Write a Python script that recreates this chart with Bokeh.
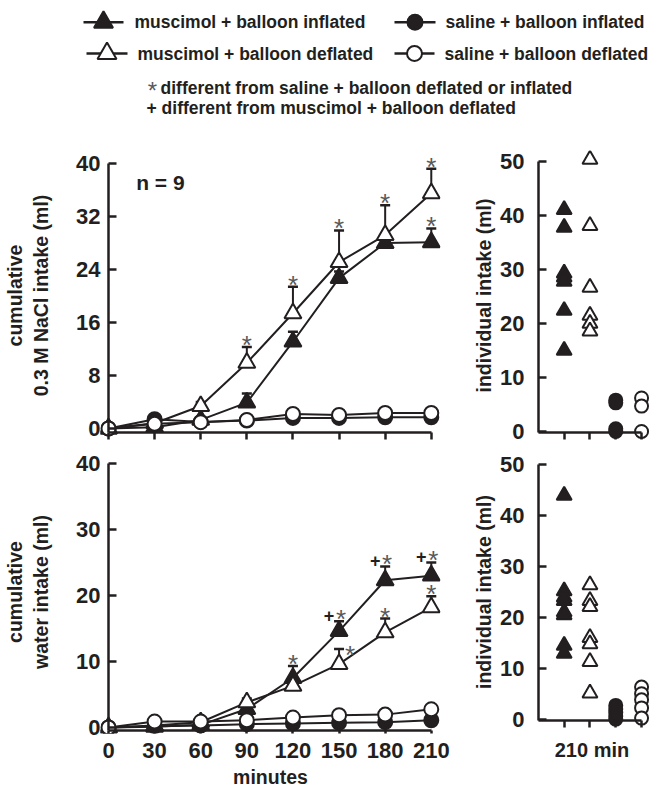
from bokeh.plotting import figure
from bokeh.layouts import column, row
from bokeh.models import Range1d, FixedTicker, ColumnDataSource, Label, LinearAxis
from bokeh.core.properties import value
from bokeh.embed import file_html
from bokeh.resources import INLINE

BLACK = "#231f20"
GRAY = "#58595b"
FONT = "Liberation Sans"

# ---------------- data ----------------
minutes = [0, 30, 60, 90, 120, 150, 180, 210]
series_labels = ["muscimol + balloon inflated", "muscimol + balloon deflated",
                 "saline + balloon inflated", "saline + balloon deflated"]
series_keys = ["mus_inf", "mus_def", "sal_inf", "sal_def"]

# cumulative 0.3 M NaCl intake (ml), mean and SEM
nacl_mus_inf = [0, 0.2, 1.3, 3.9, 13.1, 22.7, 28.0, 28.1]
nacl_mus_inf_sem = [0, 0.2, 0.4, 1.4, 1.5, 1.0, 0.7, 2.1]
nacl_mus_def = [0, 0.8, 3.4, 9.9, 17.4, 25.1, 29.2, 35.5]
nacl_mus_def_sem = [0, 0.3, 0.6, 2.4, 4.0, 4.8, 4.5, 3.7]
nacl_sal_inf = [0, 1.4, 1.0, 1.2, 1.6, 1.6, 1.7, 1.7]
nacl_sal_inf_sem = [0, 0.3, 0.3, 0.3, 0.4, 0.4, 0.4, 0.4]
nacl_sal_def = [0, 0.7, 0.95, 1.3, 2.2, 2.05, 2.35, 2.35]
nacl_sal_def_sem = [0, 0.3, 0.3, 0.4, 0.5, 0.5, 0.5, 0.5]

# cumulative water intake (ml), mean and SEM
water_mus_inf = [0, 0.1, 0.4, 2.8, 7.5, 14.6, 22.3, 23.0]
water_mus_inf_sem = [0, 0.1, 0.2, 0.6, 1.8, 1.5, 2.1, 2.0]
water_mus_def = [0, 0.3, 0.8, 3.8, 6.3, 9.6, 14.4, 18.2]
water_mus_def_sem = [0, 0.2, 0.3, 0.6, 0.8, 2.3, 2.1, 1.7]
water_sal_inf = [0, 0.2, 0.3, 0.5, 0.6, 0.7, 0.8, 1.1]
water_sal_inf_sem = [0, 0.1, 0.1, 0.2, 0.2, 0.3, 0.3, 0.3]
water_sal_def = [0, 0.9, 0.9, 1.1, 1.5, 1.85, 1.95, 2.75]
water_sal_def_sem = [0, 0.2, 0.2, 0.3, 0.3, 0.4, 0.4, 0.4]

# significance marks: (series, time index, symbol)
nacl_marks = [("mus_def", 3, "*"), ("mus_def", 4, "*"), ("mus_def", 5, "*"),
              ("mus_def", 6, "*"), ("mus_def", 7, "*"), ("mus_inf", 7, "*")]
water_marks = [("mus_inf", 4, "*"), ("mus_inf", 5, "+*"), ("mus_inf", 6, "+*"),
               ("mus_inf", 7, "+*"), ("mus_def", 5, "*"), ("mus_def", 6, "*"),
               ("mus_def", 7, "*")]

# individual intake at 210 min (ml)
nacl_ind_mus_inf = [41.1, 37.8, 29.3, 28.6, 27.8, 22.4, 15.0]
nacl_ind_mus_def = [50.4, 38.1, 26.7, 21.5, 20.0, 18.6]
nacl_ind_sal_inf = [5.8, 5.3, 0.5, 0.0]
nacl_ind_sal_def = [6.2, 4.7, 0.0]
water_ind_mus_inf = [44.0, 25.2, 24.0, 23.3, 21.1, 20.5, 14.5, 12.9]
water_ind_mus_def = [26.4, 23.3, 22.1, 16.0, 14.8, 11.3, 5.1]
water_ind_sal_inf = [2.7, 2.0, 1.3, 0.6, 0.0]
water_ind_sal_def = [6.3, 5.0, 3.8, 2.2, 0.2]

nacl_ticks = [0, 8, 16, 24, 32, 40]
water_ticks = [0, 10, 20, 30, 40]
ind_ticks = [0, 10, 20, 30, 40, 50]
ind_positions = [1, 2, 3, 4]

nacl_means = dict(zip(series_keys, [nacl_mus_inf, nacl_mus_def, nacl_sal_inf, nacl_sal_def]))
nacl_sems = dict(zip(series_keys, [nacl_mus_inf_sem, nacl_mus_def_sem, nacl_sal_inf_sem, nacl_sal_def_sem]))
water_means = dict(zip(series_keys, [water_mus_inf, water_mus_def, water_sal_inf, water_sal_def]))
water_sems = dict(zip(series_keys, [water_mus_inf_sem, water_mus_def_sem, water_sal_inf_sem, water_sal_def_sem]))
nacl_ind = dict(zip(series_keys, [nacl_ind_mus_inf, nacl_ind_mus_def, nacl_ind_sal_inf, nacl_ind_sal_def]))
water_ind = dict(zip(series_keys, [water_ind_mus_inf, water_ind_mus_def, water_ind_sal_inf, water_ind_sal_def]))

# ---------------- styles ----------------
MARKER = {"mus_inf": "triangle", "mus_def": "triangle", "sal_inf": "circle", "sal_def": "circle"}
FILL = {"mus_inf": BLACK, "mus_def": "white", "sal_inf": BLACK, "sal_def": "white"}
SIZE_T = {"triangle": 17, "circle": 14}
SIZE_I = {"triangle": 15, "circle": 13}
# pixel shifts for particular marks (layout only)
MARK_SHIFT = {("water", "mus_def", 5): (11, 8)}


def hide_labels(ax):
    ax.major_label_text_color = None
    ax.major_label_text_font_size = "1px"
    ax.major_label_standoff = 0


def new_fig(width, height, xr, yr, mb, xfix, yfix, xbounds, ybounds, xticks, yticks):
    """Figure whose own axes sit at data positions (line + ticks only)."""
    p = figure(width=width, height=height, x_range=xr, y_range=yr,
               output_backend="svg", toolbar_location=None,
               min_border_left=mb[0], min_border_right=mb[1],
               min_border_top=mb[2], min_border_bottom=mb[3])
    p.grid.visible = False
    p.outline_line_color = None
    xa, ya = p.xaxis[0], p.yaxis[0]
    for ax in (xa, ya):
        ax.axis_line_color = BLACK
        ax.axis_line_width = 2.5
        ax.major_tick_line_color = BLACK
        ax.major_tick_line_width = 2.5
        ax.minor_tick_line_color = None
        hide_labels(ax)
    xa.fixed_location = xfix
    ya.fixed_location = yfix
    xa.ticker = FixedTicker(ticks=xticks)
    ya.ticker = FixedTicker(ticks=yticks)
    xa.bounds = xbounds
    ya.bounds = ybounds
    xa.major_tick_in, xa.major_tick_out = 0, 7
    ya.major_tick_in, ya.major_tick_out = 8, 0
    return p


def label_axis(ticks, label, show_ticklabels, standoff, label_standoff, label_size):
    ax = LinearAxis(ticker=FixedTicker(ticks=ticks), axis_label=label)
    ax.axis_line_color = None
    ax.major_tick_line_color = None
    ax.minor_tick_line_color = None
    ax.major_tick_in = 0
    ax.major_tick_out = 0
    if show_ticklabels:
        ax.major_label_text_font = FONT
        ax.major_label_text_font_style = "bold"
        ax.major_label_text_font_size = "22px"
        ax.major_label_text_color = BLACK
        ax.major_label_standoff = standoff
    else:
        hide_labels(ax)
    ax.axis_label_text_font = FONT
    ax.axis_label_text_font_style = "bold"
    ax.axis_label_text_font_size = label_size
    ax.axis_label_text_color = BLACK
    ax.axis_label_text_align = "center"
    ax.axis_label_standoff = label_standoff
    return ax


def draw_time(p, means, sems):
    # error bars (upper only), drawn first so markers cover the stems
    for key in series_keys:
        m, s = means[key], sems[key]
        keep = [i for i in range(len(minutes)) if s[i] > 0.15]
        src = ColumnDataSource(dict(x=[minutes[i] for i in keep],
                                    lo=[m[i] for i in keep],
                                    hi=[m[i] + s[i] for i in keep]))
        p.segment(x0="x", y0="lo", x1="x", y1="hi", source=src,
                  line_color=BLACK, line_width=2)
        p.scatter("x", "hi", source=src, marker="dash", size=10,
                  line_color=BLACK, line_width=2.5)
    for key in series_keys:
        src = ColumnDataSource(dict(x=minutes, y=means[key]))
        p.line("x", "y", source=src, line_color=BLACK, line_width=2)
        p.scatter("x", "y", source=src, marker=MARKER[key], size=SIZE_T[MARKER[key]],
                  fill_color=FILL[key], line_color=BLACK, line_width=2)


def draw_marks(p, panel, means, sems, marks):
    a = dict(x=[], y=[], xo=[], yo=[])
    b = dict(x=[], y=[], xo=[], yo=[])
    for key, i, sym in marks:
        top = means[key][i] + sems[key][i]
        dx, dy = MARK_SHIFT.get((panel, key, i), (0, 0))
        a["x"].append(minutes[i]); a["y"].append(top)
        if "+" in sym:
            b["x"].append(minutes[i]); b["y"].append(top)
            b["xo"].append(-10 + dx); b["yo"].append(-6 + dy)
            a["xo"].append(2 + dx); a["yo"].append(-2 + dy)
        else:
            a["xo"].append(dx); a["yo"].append(-2 + dy)
    p.text(x="x", y="y", text=value("*"), x_offset="xo", y_offset="yo",
           source=ColumnDataSource(a), text_font=value(FONT), text_font_size="26px",
           text_color=GRAY, text_align="center", text_baseline="alphabetic")
    if b["x"]:
        p.text(x="x", y="y", text=value("+"), x_offset="xo", y_offset="yo",
               source=ColumnDataSource(b), text_font=value(FONT), text_font_size="18px",
               text_font_style="bold", text_color=BLACK, text_align="center",
               text_baseline="alphabetic")


def draw_ind(p, groups):
    for pos, key in zip(ind_positions, series_keys):
        vals = groups[key]
        src = ColumnDataSource(dict(x=[pos] * len(vals), y=vals))
        p.scatter("x", "y", source=src, marker=MARKER[key], size=SIZE_I[MARKER[key]],
                  fill_color=FILL[key], line_color=BLACK, line_width=2)


# ---------------- header (legend + footnotes) ----------------
hdr = figure(width=665, height=140, x_range=Range1d(0, 665), y_range=Range1d(140, 0),
             x_axis_type=None, y_axis_type=None, toolbar_location=None,
             output_backend="svg", min_border=0)
hdr.outline_line_color = None
hdr.grid.visible = False

leg_y = [21.7, 53.0, 21.7, 53.0]
leg_x0 = [83, 86, 394, 394]
leg_x1 = [123, 127, 435, 434]
leg_tx = [134, 137, 445, 444]
hdr.segment(x0=leg_x0, y0=leg_y, x1=leg_x1, y1=leg_y, line_color=BLACK, line_width=2.5)
leg_src = ColumnDataSource(dict(
    x=[(a + b) / 2 for a, b in zip(leg_x0, leg_x1)], y=leg_y,
    m=[MARKER[k] for k in series_keys], f=[FILL[k] for k in series_keys],
    s=[19 if MARKER[k] == "triangle" else 15 for k in series_keys]))
hdr.scatter("x", "y", source=leg_src, marker="m", fill_color="f", size="s",
            line_color=BLACK, line_width=2)
hdr.text(x=leg_tx, y=leg_y, text=series_labels, text_font=value(FONT),
         text_font_style="bold", text_font_size="17.5px", text_color=BLACK,
         text_baseline="middle")
hdr.text(x=[152], y=[87], text=["*"], text_font=value(FONT), text_font_size="24px",
         text_color=GRAY, text_align="center", text_baseline="middle", y_offset=3)
hdr.text(x=[160, 146], y=[87, 107],
         text=["different from saline + balloon deflated or inflated",
               "+ different from muscimol + balloon deflated"],
         text_font=value(FONT), text_font_style="bold", text_font_size="17.5px",
         text_color=BLACK, text_baseline="middle")

# ---------------- panels ----------------
tl = new_fig(470, 305, Range1d(-5.2, 216), Range1d(-1.81, 41.96), (100, 30, 10, 5),
             -0.6, 0, (0, 210), (-0.6, 40), minutes, nacl_ticks)
tl.add_layout(label_axis(nacl_ticks, "cumulative\n0.3 M NaCl intake (ml)", True, 0, 21, "19.5px"), "left")
draw_time(tl, nacl_means, nacl_sems)
draw_marks(tl, "nacl", nacl_means, nacl_sems, nacl_marks)
tl.add_layout(Label(x=18, y=37.2, text="n = 9", text_font=FONT, text_font_style="bold",
                    text_font_size="21px", text_color=BLACK, text_baseline="middle"))

tr = new_fig(195, 305, Range1d(-0.382, 4.54), Range1d(-1.67, 52.04), (56, 10, 10, 5),
             -0.2, 0, (0, 4), (-0.2, 50), ind_positions, ind_ticks)
tr.add_layout(label_axis(ind_ticks, "individual intake (ml)", True, 4, 2, "19.5px"), "left")
draw_ind(tr, nacl_ind)

bl = new_fig(470, 345, Range1d(-5.2, 216), Range1d(-0.91, 41.96), (100, 30, 5, 56),
             -0.45, 0, (0, 210), (-0.45, 40), minutes, water_ticks)
bl.add_layout(label_axis(water_ticks, "cumulative\nwater intake (ml)", True, 0, 21, "19.5px"), "left")
bl.add_layout(label_axis(minutes, "minutes", True, 9, 5, "19.5px"), "below")
draw_time(bl, water_means, water_sems)
draw_marks(bl, "water", water_means, water_sems, water_marks)

br = new_fig(195, 345, Range1d(-0.382, 4.54), Range1d(-2.83, 52.83), (56, 10, 5, 45),
             -0.3, 0, (0, 4), (-0.3, 50), ind_positions, ind_ticks)
br.add_layout(label_axis(ind_ticks, "individual intake (ml)", True, 4, 2, "19.5px"), "left")
br.add_layout(label_axis(ind_positions, "210 min", False, 0, 5, "20px"), "below")
draw_ind(br, water_ind)

layout = column(hdr, row(tl, tr), row(bl, br))
open("out.html", "w").write(file_html(layout, INLINE))
